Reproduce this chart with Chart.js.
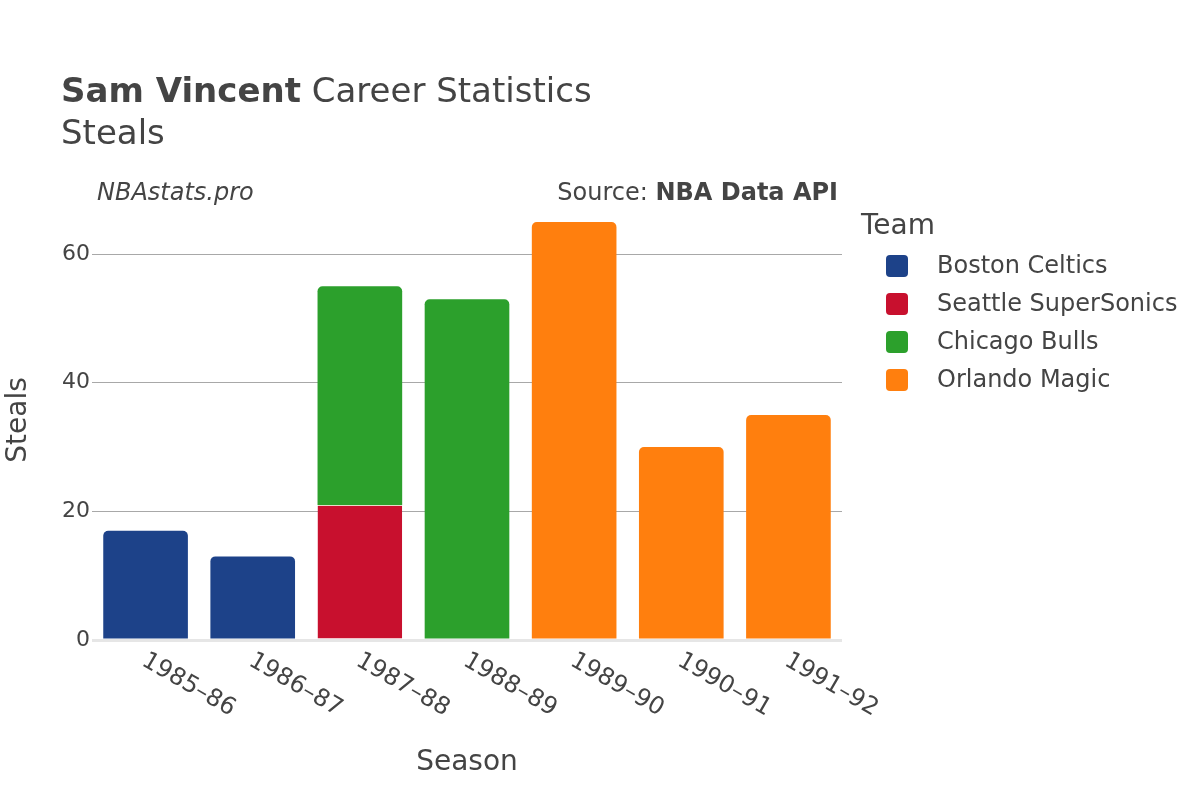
<!DOCTYPE html>
<html>
<head>
<meta charset="utf-8">
<script src="https://cdn.jsdelivr.net/npm/chart.js@4.4.1/dist/chart.umd.min.js"></script>
<style>
  html, body { margin: 0; padding: 0; background: #fff; }
  #wrap { width: 1200px; height: 800px; }
</style>
</head>
<body>
<div id="wrap"><canvas id="grafica" width="1200" height="800"></canvas></div>
<script>
// datos
const seasons = ['1985–86', '1986–87', '1987–88', '1988–89', '1989–90', '1990–91', '1991–92'];
const teams = ['Boston Celtics', 'Seattle SuperSonics', 'Chicago Bulls', 'Orlando Magic'];
const bostonSteals = [17, 13, null, null, null, null, null];
const seattleSteals = [null, null, 21, null, null, null, null];
const chicagoSteals = [null, null, 34, 53, null, null, null];
const orlandoSteals = [null, null, null, null, 65, 30, 35];
const yTicks = [0, 20, 40, 60];
const teamColors = ['#1d4289', '#c8102e', '#2ca02c', '#ff7f0e'];

const FONT = '"DejaVu Sans", sans-serif';
const TEXT = '#444';

const textos = {
  id: 'textos',
  afterDraw(chart) {
    const ctx = chart.ctx;
    ctx.save();
    ctx.fillStyle = TEXT;
    ctx.textBaseline = 'alphabetic';
    ctx.textAlign = 'left';

    // titulo
    ctx.font = 'bold 34px ' + FONT;
    ctx.fillText('Sam Vincent', 61, 102);
    const w = ctx.measureText('Sam Vincent').width;
    ctx.font = '34px ' + FONT;
    ctx.fillText(' Career Statistics', 61 + w, 102);
    ctx.fillText('Steals', 61, 144);

    // marca y fuente
    ctx.font = 'italic 24px ' + FONT;
    ctx.fillText('NBAstats.pro', 97, 200);
    ctx.textAlign = 'right';
    ctx.font = 'bold 24px ' + FONT;
    ctx.fillText('NBA Data API', 838, 200);
    const wb = ctx.measureText('NBA Data API').width;
    ctx.font = '24px ' + FONT;
    ctx.fillText('Source: ', 838 - wb, 200);

    // leyenda
    ctx.textAlign = 'left';
    ctx.textBaseline = 'middle';
    ctx.font = '28px ' + FONT;
    ctx.fillText('Team', 861, 227);
    ctx.font = '24px ' + FONT;
    teams.forEach((t, i) => {
      const y = 266 + i * 38;
      ctx.fillStyle = teamColors[i];
      ctx.beginPath();
      ctx.roundRect(886, y - 11, 22, 22, 4);
      ctx.fill();
      ctx.fillStyle = TEXT;
      ctx.fillText(t, 937, y + 1);
    });

    // etiquetas del eje x rotadas
    const xs = chart.scales.x;
    ctx.font = '24px ' + FONT;
    ctx.textBaseline = 'middle';
    seasons.forEach((s, i) => {
      const x = xs.getPixelForTick(i);
      ctx.save();
      ctx.translate(x - 2, 659);
      ctx.rotate(Math.PI / 6);
      ctx.fillText(s, 0, 0);
      ctx.restore();
    });
    ctx.restore();
  }
};

const topRadius = { topLeft: 5, topRight: 5, bottomLeft: 0, bottomRight: 0 };

new Chart(document.getElementById('grafica'), {
  type: 'bar',
  data: {
    labels: seasons,
    datasets: [
      { label: teams[0], data: bostonSteals, backgroundColor: teamColors[0], borderRadius: topRadius, borderSkipped: false },
      { label: teams[1], data: seattleSteals, backgroundColor: teamColors[1], borderRadius: 0, borderColor: '#e8dcc8', borderWidth: { top: 1, left: 0, right: 0, bottom: 0 }, borderSkipped: false },
      { label: teams[2], data: chicagoSteals, backgroundColor: teamColors[2], borderRadius: topRadius, borderSkipped: false },
      { label: teams[3], data: orlandoSteals, backgroundColor: teamColors[3], borderRadius: topRadius, borderSkipped: false }
    ]
  },
  options: {
    responsive: false,
    animation: false,
    layout: { padding: { top: 200, right: 358, bottom: 16, left: 0 } },
    datasets: { bar: { barPercentage: 0.79, categoryPercentage: 1 } },
    scales: {
      x: {
        stacked: true,
        grid: { display: false },
        border: { display: false },
        ticks: { display: false },
        title: { display: true, text: 'Season', color: TEXT, font: { family: FONT, size: 28 }, padding: 4 },
        afterFit(scale) { scale.height = 144; }
      },
      y: {
        stacked: true,
        min: 0,
        max: 68.42,
        afterBuildTicks(axis) { axis.ticks = yTicks.map(v => ({ value: v })); },
        grid: {
          drawTicks: false,
          color: ctx => ctx.tick && ctx.tick.value === 0 ? '#e6e6e6' : '#a8a8a8',
          lineWidth: ctx => ctx.tick && ctx.tick.value === 0 ? 3 : 1
        },
        border: { display: false },
        ticks: { color: TEXT, font: { family: FONT, size: 22 }, padding: 2 },
        title: { display: true, text: 'Steals', color: TEXT, font: { family: FONT, size: 28 }, padding: 2 },
        afterFit(scale) { scale.width = 92; }
      }
    },
    plugins: {
      legend: { display: false },
      tooltip: { enabled: false }
    }
  },
  plugins: [textos]
});
</script>
</body>
</html>
